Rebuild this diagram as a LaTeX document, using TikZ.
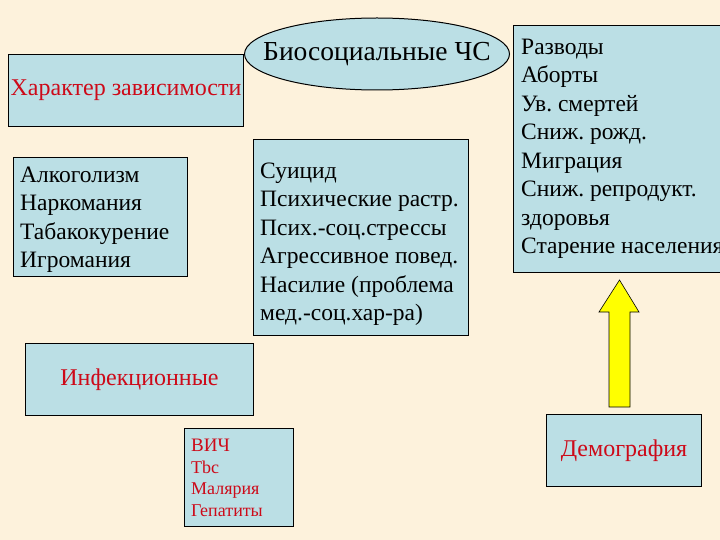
\documentclass[tikz,border=0pt]{standalone}
\usepackage{fontspec}
\setmainfont{Liberation Serif}
\usetikzlibrary{shapes.geometric}
\definecolor{bgcream}{RGB}{253,242,220}
\definecolor{boxblue}{RGB}{187,223,229}
\definecolor{txtred}{RGB}{205,10,25}
\definecolor{arrowyellow}{RGB}{255,255,0}
\frenchspacing
\begin{document}
\begin{tikzpicture}[x=1pt,y=-1pt,
  box/.style={draw=black, line width=1pt, fill=boxblue, inner sep=0pt, anchor=north west},
  listtext/.style={align=left, inner sep=0pt, anchor=north west},
  titlefont/.style={font=\fontsize{24}{28}\selectfont},
  listfont/.style={font=\fontsize{23.5}{28.5}\selectfont},
  smallfont/.style={font=\fontsize{18}{21.5}\selectfont}
  ]
\useasboundingbox (0,0) rectangle (720,540);
\clip (0,0) rectangle (720,540);
\fill[bgcream] (0,0) rectangle (720,540);

% ellipse
\node[draw=black, line width=1pt, fill=boxblue, inner sep=0pt, ellipse,
      minimum width=265pt, minimum height=72pt] (bio) at (377,54) {};
\node[inner sep=0pt, font=\fontsize{27.5}{32}\selectfont] (biotext) at (bio.center) {Биосоциальные ЧС};

% dependency title
\node[box, minimum width=235pt, minimum height=72pt, text=txtred, titlefont]
  (dep) at (8,54) {Характер зависимости};

% dependency list
\node[box, minimum width=174pt, minimum height=119pt] (deplist) at (13,157) {};
\node[listtext, listfont] (deptext) at (20,166.5)
  {Алкоголизм\\Наркомания\\Табакокурение\\Игромания};

% psycho list
\node[box, minimum width=215pt, minimum height=196pt] (psy) at (253,139) {};
\node[listtext, listfont] (psytext) at (260,162.5)
  {Суицид\\Психические растр.\\Псих.-соц.стрессы\\Агрессивное повед.\\Насилие (проблема\\мед.-соц.хар-ра)};

% demography list (cut at the right edge)
\node[box, minimum width=240pt, minimum height=247pt] (demlist) at (513,25) {};
\node[listtext, listfont] (demtext) at (521,38.5)
  {Разводы\\Аборты\\Ув. смертей\\Сниж. рожд.\\Миграция\\Сниж. репродукт.\\здоровья\\Старение населения};

% infections
\node[box, minimum width=228pt, minimum height=72pt, text=txtred, titlefont]
  (inf) at (25,343) {Инфекционные};

\node[box, minimum width=109pt, minimum height=98pt] (inflist) at (184,428) {};
\node[listtext, smallfont, text=txtred] (inftext) at (191,439)
  {{\fontsize{19}{21.5}\selectfont ВИЧ}\\Tbc\\Малярия\\Гепатиты};

% demography
\node[box, minimum width=155pt, minimum height=72pt, text=txtred, titlefont]
  (dem) at (546,414) {Демография};

% yellow arrow
\draw[fill=arrowyellow, draw=black, line width=0.6pt, line join=miter]
  (609,407) -- (609,312) -- (599,312) -- (619.5,280) -- (639,312) -- (630,312) -- (630,407) -- cycle;
\end{tikzpicture}
\end{document}
